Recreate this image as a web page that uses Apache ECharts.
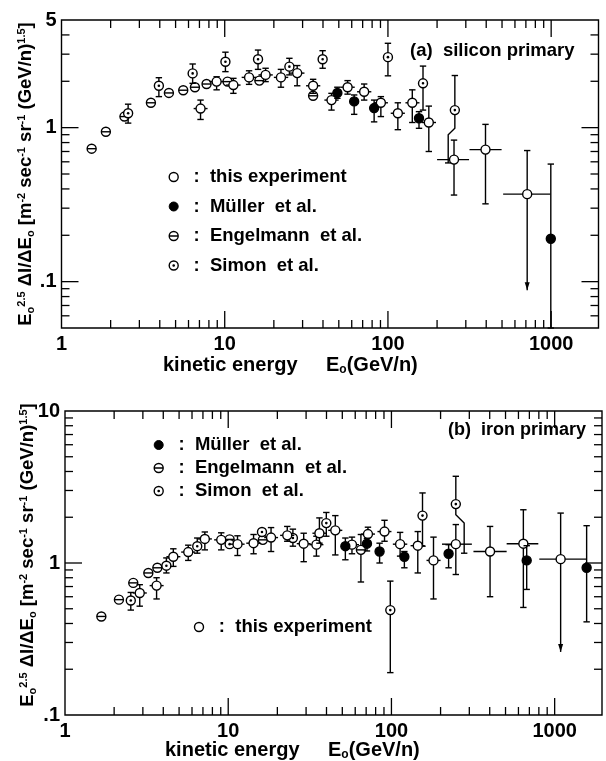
<!DOCTYPE html>
<html><head><meta charset="utf-8">
<script src="https://cdn.jsdelivr.net/npm/echarts@6/dist/echarts.min.js"></script>
<style>html,body{margin:0;padding:0;background:#fff}#c{width:606px;height:761px}</style>
</head><body><div id="c"></div>
<script>
// ---------- DATA ----------
// row: [E (GeV/n), flux, fluxLow, fluxHigh, ELow, EHigh, arrowDown, jogE, jogFluxTop, jogFluxBottom]
const siThis = [
  [7.11, 1.33, 1.13, 1.51, 6.45, 7.85, 0],
  [8.92, 1.99, 1.76, 2.14, 8.05, 9.9, 0],
  [11.3, 1.89, 1.67, 2.09, 10.2, 12.5, 0],
  [14.1, 2.12, 1.91, 2.34, 12.7, 15.6, 0],
  [17.8, 2.20, 1.99, 2.43, 16.1, 19.7, 0],
  [22.1, 2.12, 1.83, 2.39, 20.0, 24.5, 0],
  [27.8, 2.26, 1.87, 2.53, 25.1, 30.8, 0],
  [34.8, 1.87, 1.67, 2.06, 31.5, 38.5, 0],
  [45.1, 1.51, 1.30, 1.67, 40.8, 49.9, 0],
  [56.6, 1.83, 1.65, 2.02, 51.2, 62.6, 0],
  [71.5, 1.71, 1.51, 1.92, 64.7, 79.1, 0],
  [90.5, 1.45, 1.18, 1.59, 81.9, 100, 0],
  [115, 1.24, 0.97, 1.45, 104, 127, 0],
  [141, 1.45, 1.08, 1.76, 128, 156, 0],
  [178, 1.08, 0.70, 1.38, 161, 197, 0],
  [254, 0.62, 0.365, 0.83, 200, 314, 0],
  [396, 0.72, 0.32, 1.05, 316, 497, 0],
  [713, 0.37, 0.088, 0.71, 508, 990, 1]
];
const siMuller = [
  [49.0, 1.68, 1.55, 1.83],
  [62.1, 1.48, 1.22, 1.63],
  [82.3, 1.34, 1.09, 1.51],
  [155, 1.15, 0.99, 1.27],
  [995, 0.19, 0.05, 0.58]
];
const siEngelmann = [
  [1.53, 0.73], [1.87, 0.94], [2.43, 1.18], [3.53, 1.45], [4.55, 1.68],
  [5.57, 1.75], [6.57, 1.83], [7.74, 1.92], [10.4, 1.99], [16.3, 2.02], [34.8, 1.61]
];
const siSimon = [
  [2.56, 1.24, 1.07, 1.42],
  [3.95, 1.87, 1.59, 2.11],
  [6.36, 2.25, 1.94, 2.59],
  [10.1, 2.68, 2.31, 3.09],
  [16.0, 2.78, 2.39, 3.19],
  [24.9, 2.49, 2.20, 2.82],
  [39.8, 2.78, 2.43, 3.16],
  [100, 2.87, 2.17, 3.53],
  [164, 1.94, 1.30, 2.51],
  [257, 1.30, 0.59, 2.18, null, null, 0, 234, 0.99, 0.90]
];

const feThis = [
  [2.87, 0.635, 0.52, 0.72, 2.6, 3.17, 0],
  [3.64, 0.71, 0.58, 0.80, 3.3, 4.02, 0],
  [4.61, 1.10, 0.95, 1.24, 4.18, 5.09, 0],
  [5.69, 1.18, 1.04, 1.31, 5.15, 6.28, 0],
  [7.19, 1.44, 1.22, 1.60, 6.51, 7.94, 0],
  [9.06, 1.42, 1.22, 1.58, 8.2, 10.0, 0],
  [11.4, 1.33, 1.12, 1.51, 10.3, 12.6, 0],
  [14.3, 1.35, 1.15, 1.54, 12.9, 15.8, 0],
  [18.3, 1.47, 1.19, 1.71, 16.6, 20.2, 0],
  [23.0, 1.52, 1.39, 1.74, 20.8, 25.4, 0],
  [29.0, 1.34, 1.02, 1.57, 26.3, 32.0, 0],
  [34.7, 1.32, 1.11, 1.50, 31.4, 38.3, 0],
  [36.2, 1.57, 1.35, 1.98, 32.8, 40.0, 0],
  [45.3, 1.64, 1.13, 2.05, 41.0, 50.0, 0],
  [57.3, 1.32, 1.15, 1.48, 51.9, 63.3, 0],
  [71.8, 1.55, 1.39, 1.72, 65.0, 79.3, 0],
  [90.7, 1.61, 1.39, 1.91, 82.1, 100, 0],
  [113, 1.33, 1.11, 1.59, 102, 125, 0],
  [145, 1.30, 0.86, 1.61, 131, 160, 0],
  [181, 1.04, 0.58, 1.48, 164, 200, 0],
  [248, 1.33, 0.84, 1.79, 204, 311, 0],
  [402, 1.19, 0.60, 1.74, 318, 508, 0],
  [643, 1.34, 0.51, 2.24, 508, 794, 0],
  [1088, 1.06, 0.26, 2.13, 805, 1570, 1]
];
const feMuller = [
  [52.2, 1.29, 1.05, 1.46],
  [70.8, 1.34, 1.20, 1.45],
  [84.6, 1.19, 1.00, 1.35],
  [120, 1.10, 0.93, 1.19],
  [224, 1.15, 0.93, 1.32],
  [674, 1.04, 0.67, 1.30],
  [1570, 0.93, 0.41, 1.76]
];
const feEngelmann = [
  [1.67, 0.445], [2.14, 0.574], [2.62, 0.74], [3.24, 0.86], [3.68, 0.93],
  [10.2, 1.43], [16.3, 1.42], [65.0, 1.22, 0.75, 1.54]
];
const feSimon = [
  [2.53, 0.567, 0.49, 0.64],
  [4.18, 0.96, 0.86, 1.08],
  [6.46, 1.29, 1.16, 1.46],
  [10.2, 1.33],
  [16.1, 1.60],
  [24.9, 1.46, 1.29, 1.67],
  [39.9, 1.83, 1.50, 2.15],
  [98.4, 0.49, 0.19, 0.76],
  [155, 2.05, 1.29, 2.89],
  [248, 2.44, 1.16, 3.72, null, null, 0, 279, 2.08, 1.83]
];

// axes / ticks
const xMin = 1, xMax = 1950;
const siYMin = 0.05, siYMax = 5;
const feYMin = 0.1, feYMax = 10;
const xTickValues = [1, 10, 100, 1000];
const xTickLabels = ['1', '10', '100', '1000'];
const siYTickValues = [0.1, 1, 5];
const siYTickLabels = ['.1', '1', '5'];
const feYTickValues = [0.1, 1, 10];
const feYTickLabels = ['.1', '1', '10'];
const xMajorTicks = [10, 100, 1000];
const xMinorTicks = [2,3,4,5,6,7,8,9,20,30,40,50,60,70,80,90,200,300,400,500,600,700,800,900];
const siYMajorTicks = [0.1, 1];
const siYMinorTicks = [0.06,0.07,0.08,0.09,0.2,0.3,0.4,0.5,0.6,0.7,0.8,0.9,2,3,4];
const feYMajorTicks = [1];
const feYMinorTicks = [0.2,0.3,0.4,0.5,0.6,0.7,0.8,0.9,2,3,4,5,6,7,8,9];

const seriesNames = ['this experiment', 'Müller  et al.', 'Engelmann  et al.', 'Simon  et al.'];

// ---------- RENDER ----------
const FONT = "'Liberation Sans', Arial, Helvetica, sans-serif";
const chart = echarts.init(document.getElementById('c'), null, {renderer: 'canvas'});

function pad(rows) { return rows.map(r => { const o = r.slice(); while (o.length < 10) o.push(null); return o; }); }

function markerRender(kind) {
  return function (params, api) {
    const v = i => api.value(i);
    const ok = t => typeof t === 'number' && isFinite(t) && t > 0;
    const x = v(0), y = v(1), lo = v(2), hi = v(3), xl = v(4), xh = v(5), arrow = v(6);
    const jx = v(7), jy1 = v(8), jy2 = v(9);
    const p = api.coord([x, y]);
    const ch = [];
    const ls = {stroke: '#000', lineWidth: 1.4};
    const cap = 3.2;
    if (ok(hi)) {
      const q = api.coord([x, hi]);
      ch.push({type: 'line', shape: {x1: p[0], y1: p[1], x2: q[0], y2: q[1]}, style: ls});
      ch.push({type: 'line', shape: {x1: q[0] - cap, y1: q[1], x2: q[0] + cap, y2: q[1]}, style: ls});
    }
    if (ok(lo)) {
      let q;
      if (ok(jx)) {
        const a = api.coord([x, jy1]), b = api.coord([jx, jy2]);
        q = api.coord([jx, lo]);
        ch.push({type: 'polyline', shape: {points: [p, a, b, q]}, style: {stroke: '#000', lineWidth: 1.4, fill: null}});
      } else {
        q = api.coord([x, lo]);
        ch.push({type: 'line', shape: {x1: p[0], y1: p[1], x2: q[0], y2: q[1]}, style: ls});
      }
      if (ok(arrow)) {
        ch.push({type: 'polygon', shape: {points: [[q[0] - 2.5, q[1] - 8], [q[0] + 2.5, q[1] - 8], [q[0], q[1]]]}, style: {fill: '#000'}});
      } else {
        ch.push({type: 'line', shape: {x1: q[0] - cap, y1: q[1], x2: q[0] + cap, y2: q[1]}, style: ls});
      }
    }
    if (ok(xl) && ok(xh)) {
      const a = api.coord([xl, y]), b = api.coord([xh, y]);
      ch.push({type: 'line', shape: {x1: a[0], y1: a[1], x2: b[0], y2: b[1]}, style: ls});
    }
    const r = 4.5;
    ch.push({type: 'circle', shape: {cx: p[0], cy: p[1], r: r}, style: {fill: kind === 'muller' ? '#000' : '#fff', stroke: '#000', lineWidth: 1.4}});
    if (kind === 'engel') ch.push({type: 'line', shape: {x1: p[0] - r, y1: p[1], x2: p[0] + r, y2: p[1]}, style: ls});
    if (kind === 'simon') ch.push({type: 'circle', shape: {cx: p[0], cy: p[1], r: 1.3}, style: {fill: '#000'}});
    return {type: 'group', children: ch};
  };
}

function tickRender(params, api) {
  const cs = params.coordSys;
  const p = api.coord([api.value(0), api.value(1)]);
  const isY = api.value(2) === 1;
  const len = api.value(3) === 1 ? 17 : 8;
  const ls = {stroke: '#000', lineWidth: 1.3};
  const ch = [];
  if (!isY) {
    ch.push({type: 'line', shape: {x1: p[0], y1: cs.y + cs.height, x2: p[0], y2: cs.y + cs.height - len}, style: ls});
    ch.push({type: 'line', shape: {x1: p[0], y1: cs.y, x2: p[0], y2: cs.y + len}, style: ls});
  } else {
    ch.push({type: 'line', shape: {x1: cs.x, y1: p[1], x2: cs.x + len, y2: p[1]}, style: ls});
    ch.push({type: 'line', shape: {x1: cs.x + cs.width, y1: p[1], x2: cs.x + cs.width - len, y2: p[1]}, style: ls});
  }
  return {type: 'group', children: ch};
}

function tickData(yMin, yMajor, yMinor) {
  const d = [];
  xMajorTicks.forEach(t => d.push([t, yMin, 0, 1]));
  xMinorTicks.forEach(t => d.push([t, yMin, 0, 0]));
  yMajor.forEach(t => d.push([xMin, t, 1, 1]));
  yMinor.forEach(t => d.push([xMin, t, 1, 0]));
  return d;
}

function lookup(vals, labs) {
  return function (v) {
    for (let i = 0; i < vals.length; i++) if (Math.abs(v / vals[i] - 1) < 1e-6) return labs[i];
    return '';
  };
}

const labelStyle = {color: '#000', fontWeight: 'bold', fontSize: 20, fontFamily: FONT};

function xAxisDef(gi) {
  return {type: 'log', gridIndex: gi, min: xMin, max: xMax, logBase: 10,
    axisLine: {show: false}, axisTick: {show: false}, splitLine: {show: false}, minorTick: {show: false},
    axisLabel: Object.assign({margin: 6, formatter: lookup(xTickValues, xTickLabels), showMinLabel: true, showMaxLabel: true, hideOverlap: false}, labelStyle)};
}
function yAxisDef(gi, mn, mx, vals, labs) {
  return {type: 'log', gridIndex: gi, min: mn, max: mx, logBase: 10,
    axisLine: {show: false}, axisTick: {show: false}, splitLine: {show: false}, minorTick: {show: false},
    axisLabel: Object.assign({margin: 5, formatter: lookup(vals, labs), showMinLabel: true, showMaxLabel: true, hideOverlap: false}, labelStyle)};
}

function mk(name, kind, data, gi) {
  return {type: 'custom', name: name, xAxisIndex: gi, yAxisIndex: gi, renderItem: markerRender(kind),
    data: pad(data), encode: {x: 0, y: 1}, z: 3, silent: true};
}

const iconOpen = 'path://M0,10a10,10 0 1,0 20,0a10,10 0 1,0 -20,0z';
const iconEngel = 'path://M0,10a10,10 0 1,0 20,0a10,10 0 1,0 -20,0zM0,10L20,10';
const iconSimon = 'path://M0,10a10,10 0 1,0 20,0a10,10 0 1,0 -20,0zM8.6,10a1.4,1.4 0 1,0 2.8,0a1.4,1.4 0 1,0 -2.8,0z';
const legendItems = {
  [seriesNames[0]]: {name: seriesNames[0], icon: iconOpen, itemStyle: {color: '#fff', borderColor: '#000', borderWidth: 1.4}},
  [seriesNames[1]]: {name: seriesNames[1], icon: 'circle', itemStyle: {color: '#000', borderColor: '#000', borderWidth: 1}},
  [seriesNames[2]]: {name: seriesNames[2], icon: iconEngel, itemStyle: {color: '#fff', borderColor: '#000', borderWidth: 1.4}},
  [seriesNames[3]]: {name: seriesNames[3], icon: iconSimon, itemStyle: {color: '#fff', borderColor: '#000', borderWidth: 1.4}}
};
const legendText = {color: '#000', fontWeight: 'bold', fontSize: 18.5, fontFamily: FONT, lineHeight: 20};
function legendDef(names, left, top, gap) {
  return {orient: 'vertical', left: left, top: top, itemWidth: 9, itemHeight: 9, itemGap: gap, padding: 0,
    selectedMode: false, formatter: n => '  :  ' + n, textStyle: legendText, data: names.map(n => legendItems[n])};
}

const rich = {
  t: {fontSize: 18.5, fontWeight: 'bold', fontFamily: FONT, fill: '#000'},
  sb: {fontSize: 11, fontWeight: 'bold', fontFamily: FONT, fill: '#000', verticalAlign: 'bottom', padding: [9, 0, 0, 0]},
  sp: {fontSize: 11, fontWeight: 'bold', fontFamily: FONT, fill: '#000', verticalAlign: 'top', padding: [0, 0, 9, 0]}
};
const richX = {
  t: {fontSize: 20, fontWeight: 'bold', fontFamily: FONT, fill: '#000'},
  sb: {fontSize: 12, fontWeight: 'bold', fontFamily: FONT, fill: '#000', verticalAlign: 'bottom', padding: [9, 0, 0, 0]}
};
const yTitle = '{t|E}{sb|o}{sp|2.5}{t| ΔI/ΔE}{sb|o}{t| [m}{sp|-2}{t| sec}{sp|-1}{t| sr}{sp|-1}{t| (GeV/n)}{sp|1.5}{t|]}';
const xTitle1 = '{t|kinetic energy}';
const xTitle2 = '{t|E}{sb|o}{t|(GeV/n)}';

const option = {
  animation: false,
  backgroundColor: '#fff',
  grid: [
    {left: 61.5, top: 20, width: 537, height: 308, show: true, borderColor: '#000', borderWidth: 1.4, backgroundColor: 'transparent', containLabel: false},
    {left: 65, top: 411, width: 537, height: 304, show: true, borderColor: '#000', borderWidth: 1.4, backgroundColor: 'transparent', containLabel: false}
  ],
  xAxis: [xAxisDef(0), xAxisDef(1)],
  yAxis: [yAxisDef(0, siYMin, siYMax, siYTickValues, siYTickLabels), yAxisDef(1, feYMin, feYMax, feYTickValues, feYTickLabels)],
  legend: [
    legendDef(seriesNames, 168.5, 167, 9.5),
    legendDef([seriesNames[1], seriesNames[2], seriesNames[3]], 153.5, 435, 3),
    legendDef([seriesNames[0]], 193.8, 617, 3)
  ],
  series: [
    {type: 'custom', name: 'ticks-a', xAxisIndex: 0, yAxisIndex: 0, renderItem: tickRender, data: tickData(siYMin, siYMajorTicks, siYMinorTicks), encode: {x: 0, y: 1}, z: 2, silent: true},
    {type: 'custom', name: 'ticks-b', xAxisIndex: 1, yAxisIndex: 1, renderItem: tickRender, data: tickData(feYMin, feYMajorTicks, feYMinorTicks), encode: {x: 0, y: 1}, z: 2, silent: true},
    mk(seriesNames[2], 'engel', siEngelmann, 0),
    mk(seriesNames[3], 'simon', siSimon, 0),
    mk(seriesNames[0], 'this', siThis, 0),
    mk(seriesNames[1], 'muller', siMuller, 0),
    mk(seriesNames[2], 'engel', feEngelmann, 1),
    mk(seriesNames[3], 'simon', feSimon, 1),
    mk(seriesNames[0], 'this', feThis, 1),
    mk(seriesNames[1], 'muller', feMuller, 1)
  ],
  graphic: [
    {type: 'text', left: 410, top: 41, style: {text: '(a)  silicon primary', fill: '#000', font: 'bold 18.5px ' + FONT}},
    {type: 'text', left: 448, top: 421, style: {text: '(b)  iron primary', fill: '#000', font: 'bold 18px ' + FONT}},
    {type: 'text', x: 163, y: 365, style: {text: xTitle1, rich: richX, align: 'left', verticalAlign: 'middle'}},
    {type: 'text', x: 326, y: 365, style: {text: xTitle2, rich: richX, align: 'left', verticalAlign: 'middle'}},
    {type: 'text', x: 165, y: 750, style: {text: xTitle1, rich: richX, align: 'left', verticalAlign: 'middle'}},
    {type: 'text', x: 328, y: 750, style: {text: xTitle2, rich: richX, align: 'left', verticalAlign: 'middle'}},
    {type: 'text', x: 26, y: 174, rotation: Math.PI / 2, style: {text: yTitle, rich: rich, align: 'center', verticalAlign: 'middle'}},
    {type: 'text', x: 28, y: 555, rotation: Math.PI / 2, style: {text: yTitle, rich: rich, align: 'center', verticalAlign: 'middle'}}
  ]
};
chart.setOption(option);
</script>
</body></html>
